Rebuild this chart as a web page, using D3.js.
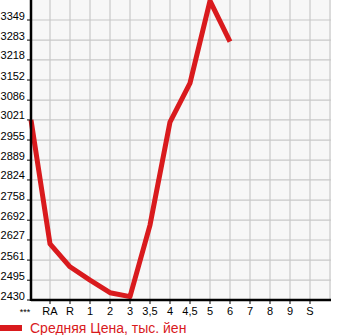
<!DOCTYPE html>
<head>
  <meta charset="utf-8">
  <script src="https://d3js.org/d3.v7.min.js"></script>
  <style>
    body { margin:0; background:#fff; }
    text { font-family: "Liberation Sans", Arial, sans-serif; }
  </style>
</head>
<body>
  <script>
    // categories along the bottom, last one has no point
    var categories = ["***", "RA", "R", "1", "2", "3", "3,5", "4", "4,5", "5", "6", "7", "8", "9", "S"];
    var prices = [3021, 2614, 2539, 2495, 2454, 2441, 2676, 3014, 3142, 3412, 3278];
    var yTicks = [2430, 2495, 2561, 2627, 2692, 2758, 2824, 2889, 2955, 3021, 3086, 3152, 3218, 3283, 3349];
    var legendLabel = "Средняя Цена, тыс. йен";

    var width = 345, height = 335;
    var plotLeft = 31, plotRight = 331, plotTop = 0, plotBottom = 300;

    var svg = d3.select("body").append("svg")
      .attr("width", width)
      .attr("height", height);

    var x = d3.scaleLinear().domain([0, 15]).range([30, 330]);
    var y = d3.scaleLinear().domain([2430, 3349 + (3349 - 2430) / 14]).range([plotBottom, plotTop]);

    svg.append("rect")
      .attr("x", plotLeft).attr("y", plotTop)
      .attr("width", plotRight - plotLeft).attr("height", plotBottom - plotTop)
      .style("fill", "#f7f7f7");

    // grid
    svg.selectAll(".vg").data(d3.range(1, 16)).enter()
      .append("line")
      .attr("x1", function(d) { return x(d); }).attr("x2", function(d) { return x(d); })
      .attr("y1", plotTop).attr("y2", plotBottom)
      .style("stroke", "#c8c8c8").style("stroke-width", 1.2);
    svg.selectAll(".hg").data(yTicks.slice(1)).enter()
      .append("line")
      .attr("x1", plotLeft).attr("x2", plotRight)
      .attr("y1", function(d) { return y(d); }).attr("y2", function(d) { return y(d); })
      .style("stroke", "#c8c8c8").style("stroke-width", 1.2);

    var line = d3.line()
      .x(function(d, i) { return i == 0 ? plotLeft : x(i); })
      .y(function(d) { return y(d); });

    svg.append("path")
      .datum(prices)
      .attr("d", line)
      .style("fill", "none")
      .style("stroke", "#d91a1d")
      .style("stroke-width", 5)
      .style("stroke-linejoin", "round");

    // axes
    svg.append("line").attr("x1", plotLeft).attr("x2", plotLeft).attr("y1", plotTop).attr("y2", plotBottom + 1)
      .style("stroke", "#000").style("stroke-width", 2.5);
    svg.append("line").attr("x1", plotLeft).attr("x2", plotRight).attr("y1", plotBottom).attr("y2", plotBottom)
      .style("stroke", "#000").style("stroke-width", 2.5);

    svg.selectAll(".yt").data(yTicks).enter()
      .append("line")
      .attr("x1", plotLeft - 4).attr("x2", plotLeft)
      .attr("y1", function(d) { return y(d); }).attr("y2", function(d) { return y(d); })
      .style("stroke", "#000").style("stroke-width", 1);
    svg.selectAll(".yl").data(yTicks).enter()
      .append("text")
      .attr("x", 25)
      .attr("y", function(d) { return y(d) - 0.5; })
      .attr("text-anchor", "end")
      .style("font-size", "11px")
      .style("fill", "#000")
      .text(function(d) { return d; });

    svg.selectAll(".xt").data(d3.range(1, 15)).enter()
      .append("line")
      .attr("x1", function(d) { return x(d); }).attr("x2", function(d) { return x(d); })
      .attr("y1", plotBottom).attr("y2", plotBottom + 4)
      .style("stroke", "#000").style("stroke-width", 1);
    svg.selectAll(".xl").data(categories).enter()
      .append("text")
      .attr("x", function(d, i) { return i == 0 ? 25 : x(i); })
      .attr("y", function(d, i) { return i == 0 ? 315 : 315; })
      .attr("text-anchor", "middle")
      .style("font-size", function(d, i) { return i == 0 ? "9px" : "11px"; })
      .style("fill", "#000")
      .text(function(d) { return d; });

    // legend
    svg.append("line").attr("x1", 0).attr("x2", 22).attr("y1", 328).attr("y2", 328)
      .style("stroke", "#d91a1d").style("stroke-width", 6);
    svg.append("text").attr("x", 30).attr("y", 333)
      .style("font-size", "14px").style("fill", "#d91a1d")
      .text(legendLabel);
  </script>
</body>
